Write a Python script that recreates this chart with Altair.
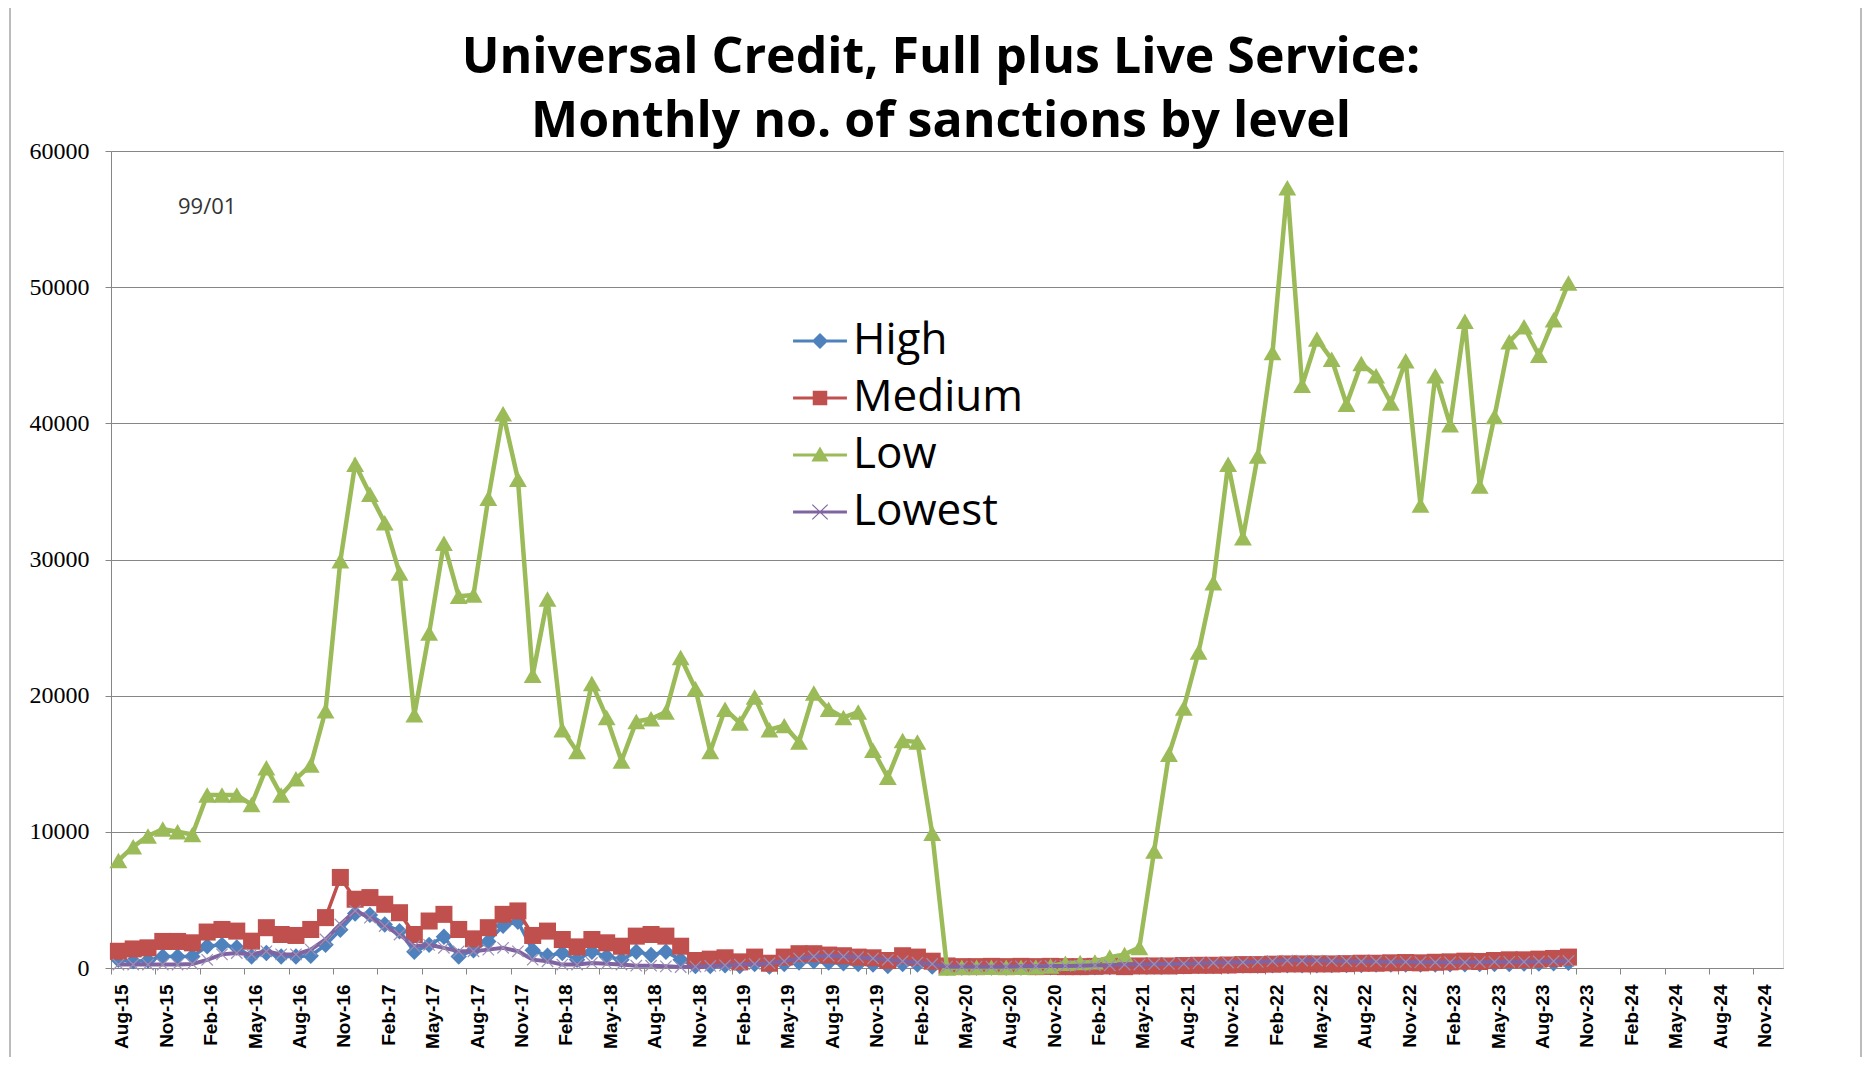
import altair as alt
import pandas as pd

# ---- data -------------------------------------------------------------
series_names = ["High", "Medium", "Low", "Lowest"]
series_colors = ["#4F81BD", "#C0504D", "#9BBB59", "#8064A2"]

# month index 0 = Aug-15 ... 98 = Oct-23
high = [600, 500, 550, 850, 850, 850, 1600, 1700, 1500, 850, 1100, 850, 850, 900, 1700,
        2800, 4000, 3900, 3200, 2700, 1200, 1700, 2300, 850, 1300, 1950, 3100, 3400, 1300,
        900, 1100, 600, 1200, 850, 600, 1200, 950, 1200, 600, 150, 150, 200, 150, 300, 100,
        300, 400, 500, 400, 350, 300, 250, 150, 300, 250, 100, 20, 30, 30, 30, 40, 40, 50,
        50, 50, 60, 60, 80, 80, 100, 100, 120, 120, 150, 150, 150, 180, 180, 200, 200, 200,
        200, 220, 220, 220, 250, 250, 250, 250, 250, 280, 280, 300, 300, 300, 320, 320, 350,
        380]
medium = [1230, 1400, 1480, 1950, 1950, 1850, 2640, 2830, 2710, 1970, 2960, 2460, 2390, 2830,
          3700, 6650, 5050, 5170, 4680, 4060, 2460, 3450, 3940, 2830, 2140, 2960, 3940, 4190,
          2390, 2710, 2090, 1550, 2090, 1850, 1600, 2340, 2460, 2340, 1600, 550, 650, 750, 450,
          800, 350, 800, 1050, 1050, 950, 900, 800, 750, 550, 900, 800, 500, 150, 100, 100, 120,
          100, 120, 100, 120, 100, 100, 120, 150, 100, 150, 150, 150, 180, 200, 200, 220, 250,
          250, 280, 300, 300, 300, 300, 320, 350, 350, 380, 400, 380, 420, 450, 500, 480, 550,
          600, 600, 650, 700, 800]
low = [7900, 8900, 9700, 10200, 10000, 9800, 12700, 12700, 12700, 12000, 14700, 12700, 13900,
       14900, 18900, 29900, 37000, 34800, 32700, 29000, 18600, 24600, 31200, 27300, 27400,
       34500, 40700, 35900, 21500, 27100, 17500, 15900, 20900, 18400, 15200, 18100, 18300,
       18800, 22800, 20500, 15900, 19000, 18000, 19900, 17500, 17800, 16600, 20200, 19000,
       18400, 18800, 16000, 14000, 16700, 16600, 9900, 0, 50, 50, 50, 50, 60, 80, 150, 350,
       400, 450, 800, 1000, 1500, 8600, 15700, 19100, 23200, 28300, 37000, 31600, 37600,
       45200, 57300, 42800, 46200, 44700, 41400, 44400, 43500, 41500, 44600, 34000, 43500,
       39900, 47500, 35400, 40500, 46000, 47100, 45000, 47600, 50300]
lowest = [250, 250, 250, 250, 250, 300, 600, 1000, 1100, 1000, 1230, 1000, 1000, 1350, 2100,
          3200, 4200, 3700, 3080, 2460, 1600, 1700, 1480, 1230, 1230, 1350, 1480, 1230, 615,
          490, 250, 250, 370, 320, 250, 170, 170, 120, 70, 100, 150, 200, 250, 300, 350, 500,
          700, 850, 900, 850, 800, 700, 600, 500, 400, 300, 100, 100, 100, 100, 100, 120, 130,
          150, 150, 170, 200, 200, 250, 250, 280, 300, 320, 350, 380, 400, 420, 450, 500, 550,
          550, 550, 520, 500, 480, 480, 450, 450, 430, 420, 420, 420, 430, 450, 450, 450, 480,
          500, 520]

tick_labels = ["Aug-15", "Nov-15", "Feb-16", "May-16", "Aug-16", "Nov-16", "Feb-17", "May-17",
               "Aug-17", "Nov-17", "Feb-18", "May-18", "Aug-18", "Nov-18", "Feb-19", "May-19",
               "Aug-19", "Nov-19", "Feb-20", "May-20", "Aug-20", "Nov-20", "Feb-21", "May-21",
               "Aug-21", "Nov-21", "Feb-22", "May-22", "Aug-22", "Nov-22", "Feb-23", "May-23",
               "Aug-23", "Nov-23", "Feb-24", "May-24", "Aug-24", "Nov-24"]
y_ticks = [0, 10000, 20000, 30000, 40000, 50000, 60000]
title_lines = ["Universal Credit, Full plus Live Service:", "Monthly no. of sanctions by level"]
note_text = "99/01"

# ---- frames -----------------------------------------------------------
values_by_series = dict(zip(series_names, [high, medium, low, lowest]))
frames = {name: pd.DataFrame({"idx": list(range(len(v))), "value": v, "series": name})
          for name, v in values_by_series.items()}

tick_vals = [3 * i for i in range(len(tick_labels))]
label_expr = "[" + ",".join("'%s'" % t for t in tick_labels) + "][round(datum.value/3)]"

GRID = "#868686"
x_enc = alt.X("idx:Q",
              scale=alt.Scale(domain=[-0.5, 112.5], nice=False, zero=False),
              axis=alt.Axis(values=tick_vals, labelExpr=label_expr, grid=False,
                            domainColor=GRID, tickColor=GRID, tickSize=6,
                            tickOffset=-7.4, labelOffset=11, labelAngle=270,
                            labelAlign="right", labelBaseline="middle",
                            labelFont="Liberation Sans", labelFontWeight="bold",
                            labelFontSize=19, labelColor="#000", labelPadding=10,
                            labelOverlap=False, title=None))
y_enc = alt.Y("value:Q",
              scale=alt.Scale(domain=[0, 60000], nice=False),
              axis=alt.Axis(values=y_ticks, format="d", grid=True, gridColor=GRID,
                            gridWidth=1, domainColor=GRID, tickColor=GRID, tickSize=6,
                            labelFont="Liberation Serif", labelFontSize=24,
                            labelColor="#000", labelPadding=16, title=None))

shape_plot = {"High": "diamond", "Medium": "square", "Low": "triangle-up",
              "Lowest": "M-1,-1L1,1M1,-1L-1,1"}
size_plot = {"High": 270, "Medium": 290, "Low": 320, "Lowest": 130}
line_w = {"High": 3.5, "Medium": 3.5, "Low": 4.5, "Lowest": 4}

PLOT_W, PLOT_H = 1672, 817

# outer chart frame (decoration, like the spreadsheet chart border)
frame = alt.Chart(pd.DataFrame({"d": [0]})).mark_rect(
    fill=None, stroke="#A6A6A6", strokeWidth=1.5).encode(
    x=alt.value(-101), x2=alt.value(1750), y=alt.value(-145), y2=alt.value(1000))

# chart title as text (centred over the plot area)
title_df = pd.DataFrame({"d": [0]})
title = alt.Chart(title_df).mark_text(
    text=title_lines, font="Open Sans", fontSize=50, fontWeight="bold", color="#000",
    align="center", baseline="middle", lineHeight=64).encode(
    x=alt.value(PLOT_W / 2 - 6), y=alt.value(-93))

layers = [frame, title]
for name, color in zip(series_names, series_colors):
    df = frames[name]
    base = alt.Chart(df)
    layers.append(base.mark_line(color=color, strokeWidth=line_w[name]).encode(x=x_enc, y=y_enc))
    if name == "Lowest":
        pts = base.mark_point(shape=shape_plot[name], filled=False, color="#9C8FB5",
                              size=size_plot[name], strokeWidth=1.2, opacity=1)
    else:
        pts = base.mark_point(shape=shape_plot[name], filled=True, color=color,
                              size=size_plot[name], opacity=1)
    layers.append(pts.encode(x=x_enc, y=y_enc))

# legend (custom line+marker symbols)
legend_paths = [
    "M-1,-0.06H1V0.06H-1Z M0,-0.3L0.3,0L0,0.3L-0.3,0Z",
    "M-1,-0.06H1V0.06H-1Z M-0.27,-0.27H0.27V0.27H-0.27Z",
    "M-1,-0.06H1V0.06H-1Z M0,-0.32L0.32,0.24H-0.32Z",
    "M-1,-0.06H1V0.06H-1Z M-0.3,-0.26L-0.27,-0.29L0.3,0.26L0.27,0.29Z M0.27,-0.29L0.3,-0.26L-0.27,0.29L-0.3,0.26Z",
]
leg = alt.Legend(orient="none", legendX=682, legendY=163, title=None,
                 labelFont="Open Sans", labelFontSize=44, labelColor="#000",
                 symbolSize=2900, symbolOpacity=1, symbolStrokeWidth=0,
                 rowPadding=8, labelOffset=6, padding=0, labelLimit=500)
legend_df = pd.DataFrame({"series": series_names, "idx": [0] * 4, "value": [0] * 4})
legend_layer = alt.Chart(legend_df).mark_point(filled=True, opacity=0).encode(
    x=alt.X("idx:Q"), y=alt.Y("value:Q"),
    color=alt.Color("series:N", scale=alt.Scale(domain=series_names, range=series_colors),
                    legend=leg),
    shape=alt.Shape("series:N", scale=alt.Scale(domain=series_names, range=legend_paths),
                    legend=leg),
)

note_df = pd.DataFrame({"idx": [6], "value": [55900], "t": [note_text]})
note = alt.Chart(note_df).mark_text(font="Open Sans", fontSize=22, color="#333",
                                    align="center", baseline="middle").encode(
    x=alt.X("idx:Q"), y=alt.Y("value:Q"), text="t:N")

chart = alt.layer(*layers, legend_layer, note).properties(
    width=PLOT_W, height=PLOT_H,
    autosize=alt.AutoSizeParams(type="none"),
    padding={"left": 103, "top": 143, "right": 79, "bottom": 89},
).configure_view(stroke=None).configure(background="white")

chart.save("out.html", embed_options={"renderer": "svg", "actions": False})
